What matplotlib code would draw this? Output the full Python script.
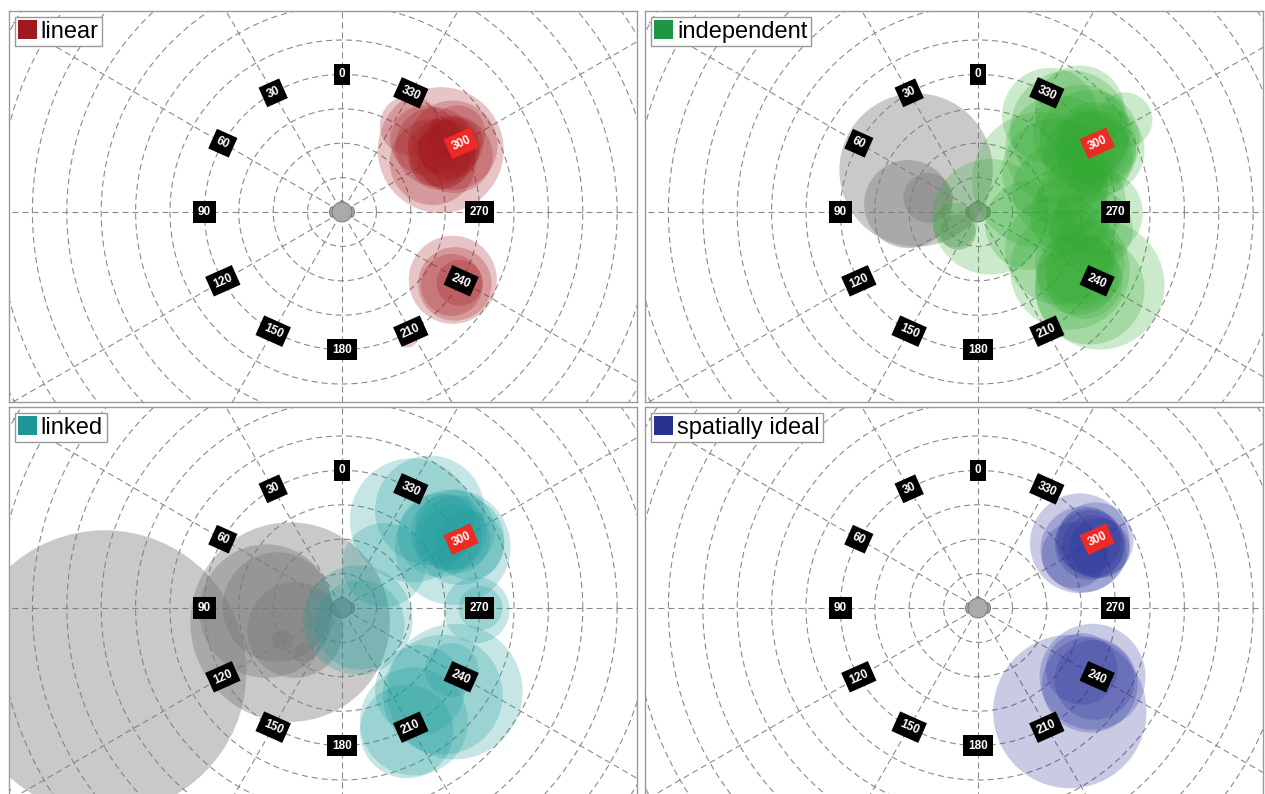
import numpy as np
import matplotlib
matplotlib.use("Agg")
import matplotlib.pyplot as plt
from matplotlib.patches import Circle, Ellipse, Polygon, Patch

plt.rcParams['font.family'] = ['Liberation Sans', 'DejaVu Sans']

# polar grid angles (deg, counter-clockwise from straight ahead)
angles = [0, 30, 60, 90, 120, 150, 180, 210, 240, 270, 300, 330]
target_angle = 300
label_radius = 4.0

panel_names = ["linear", "independent", "linked", "spatially ideal"]
panel_colors = ["#9e1a1e", "#1e9646", "#1e9696", "#28328c"]
fill_colors = ["#a3191e", "#32aa32", "#1c9c9c", "#28329a"]

# circles as (x, y, radius) in grid units
linear_x = [2.87, 1.97, 3.22, 2.64, 3.36, 3.13, 2.41, 2.84, 3.28,
            3.10, 2.90, 3.30, 2.70,
            3.22, 3.28, 3.19, 3.42, 1.91]
linear_y = [1.80, 2.52, 1.94, 1.45, 2.29, 1.80, 2.09, 1.51, 1.65,
            1.90, 1.70, 2.00, 1.90,
            -1.97, -2.09, -2.12, -2.06, -3.65]
linear_r = [1.83, 0.87, 1.30, 1.25, 0.81, 0.87, 1.01, 0.87, 1.10,
            0.90, 1.00, 0.80, 1.15,
            1.28, 1.07, 0.90, 0.67, 0.29]

indep_x = [0.35, 1.80, 1.51, -0.67,
           2.67, 3.25, 3.54, 2.38, 4.26, 2.96, 3.39, 2.09,
           3.40, 3.00, 3.60, 3.20, 2.20,
           3.54, 2.67, 3.00, 3.30, 2.40,
           3.54, 2.67, 3.25, 2.96, 2.38, 2.96, 2.90, 3.10]
indep_y = [-0.14, 0.93, -0.38, -0.38,
           2.38, 2.09, 1.80, 1.80, 2.67, 2.96, 1.94, 2.80,
           2.00, 2.30, 1.70, 1.60, 1.20,
           -0.03, -0.09, 0.30, -0.50, 0.60,
           -2.12, -1.68, -2.26, -1.54, -1.10, -1.68, -1.80, -2.00]
indep_r = [1.68, 1.97, 1.30, 0.64,
           1.74, 1.45, 1.30, 1.59, 0.81, 1.30, 1.01, 1.39,
           1.20, 1.40, 1.00, 1.30, 1.50,
           1.25, 1.16, 1.30, 1.20, 1.40,
           1.88, 1.74, 1.59, 1.30, 1.59, 1.01, 1.20, 1.10]
indep_gray_x = [-1.80, -2.03, -1.45, -0.58]
indep_gray_y = [1.22, 0.23, 0.41, -0.58]
indep_gray_r = [2.23, 1.28, 0.72, 0.52]

linked_x = [2.03, 3.22, 2.55, 3.42, 3.28, 3.71, 2.84, 1.22,
            3.30, 3.10,
            3.91, 4.03,
            0.46, 0.52,
            3.28, 2.93, 3.19, 2.09, 1.88, 2.26]
linked_y = [2.55, 1.77, 2.84, 1.97, 2.26, 1.83, 2.12, 1.25,
            2.00, 2.20,
            -0.06, 0.00,
            -0.35, -0.49,
            -2.43, -2.52, -1.80, -3.30, -3.59, -2.38]
linked_r = [1.80, 1.68, 1.59, 1.30, 1.16, 1.01, 1.22, 1.22,
            1.00, 1.10,
            0.96, 0.64,
            1.59, 1.30,
            1.97, 1.74, 0.78, 1.57, 1.36, 1.30]
linked_gray_x = [-6.90, -1.51, -2.20, -1.88, -1.36, -1.74, -1.10]
linked_gray_y = [-1.86, -0.41, -0.09, 0.03, -0.64, -0.93, -1.30]
linked_gray_r = [4.12, 2.90, 1.94, 1.59, 1.39, 0.29, 0.29]

ideal_x = [2.96, 3.07, 3.42, 3.25, 3.54, 2.81, 3.20, 3.35,
           2.67, 3.33, 3.01, 3.25, 3.39]
ideal_y = [1.88, 1.71, 1.97, 1.83, 1.74, 1.54, 1.95, 1.80,
           -3.01, -2.00, -1.77, -2.23, -2.09]
ideal_r = [1.45, 1.25, 1.10, 1.01, 0.87, 0.96, 0.95, 0.90,
           2.23, 1.54, 1.04, 1.39, 1.16]

panel_circles = [
    (linear_x, linear_y, linear_r, [], [], []),
    (indep_x, indep_y, indep_r, indep_gray_x, indep_gray_y, indep_gray_r),
    (linked_x, linked_y, linked_r, linked_gray_x, linked_gray_y, linked_gray_r),
    (ideal_x, ideal_y, ideal_r, [], [], []),
]

W, H = 1265, 794
unit = 34.4          # pixels per grid ring
ph = 391             # panel height in pixels
head_dx, head_dy = 333, 201
# left, top, width of each panel in pixels
panel_box = [(9, 11, 628), (645, 11, 618), (9, 407, 628), (645, 407, 618)]


def draw_grid(ax):
    dash = (0, (5.5, 3.5))
    th = np.linspace(0, 2 * np.pi, 400)
    for r in range(1, 14):
        ax.plot(r * np.cos(th), r * np.sin(th), color="#8a8a8a", lw=0.8,
                ls=dash, zorder=1)
    for a in angles:
        t = np.deg2rad(a)
        ax.plot([-0.4 * np.sin(t), -14 * np.sin(t)],
                [0.4 * np.cos(t), 14 * np.cos(t)],
                color="#8a8a8a", lw=0.8, ls=dash, zorder=1)


def draw_head(ax):
    for sx in (-1, 1):
        ax.add_patch(Ellipse((sx * 0.29, 0), 0.14, 0.3, fc="#a8a8a8",
                             ec="#6e6e6e", lw=0.6, zorder=1.5))
    ax.add_patch(Polygon([[-0.07, 0.27], [0.07, 0.27], [0, 0.36]],
                         closed=True, fc="#a8a8a8", ec="#6e6e6e", lw=0.6,
                         zorder=1.5))
    ax.add_patch(Circle((0, 0), 0.29, fc="#aaaaaa", ec="#6e6e6e", lw=0.6,
                        zorder=1.6))


def draw_labels(ax):
    for a in angles:
        t = np.deg2rad(a)
        x, y = -label_radius * np.sin(t), label_radius * np.cos(t)
        rot = a % 90
        if rot > 45:
            rot -= 90
        fc = "#ee2a24" if a == target_angle else "black"
        ax.text(x, y, str(a), color="white", fontsize=8.5, fontweight="bold",
                ha="center", va="center", rotation=rot * 0.8,
                rotation_mode="anchor", zorder=4,
                bbox=dict(boxstyle="square,pad=0.4", fc=fc, ec="none"))


fig = plt.figure(figsize=(W / 100, H / 100), dpi=100)

for i, name in enumerate(panel_names):
    x0, y0, pw = panel_box[i]
    ax = fig.add_axes([x0 / W, 1 - (y0 + ph) / H, pw / W, ph / H])
    ax.set_xlim(-head_dx / unit, (pw - head_dx) / unit)
    ax.set_ylim(-(ph - head_dy) / unit, head_dy / unit)
    ax.set_xticks([])
    ax.set_yticks([])
    for s in ax.spines.values():
        s.set_color("#9a9a9a")
        s.set_linewidth(1.0)

    draw_grid(ax)
    draw_head(ax)

    cx, cy, cr, gx, gy, gr = panel_circles[i]
    for x, y, r in zip(gx, gy, gr):
        ax.add_patch(Circle((x, y), r, fc="#7a7a7a", ec="none", alpha=0.4,
                            zorder=2))
    for x, y, r in zip(cx, cy, cr):
        ax.add_patch(Circle((x, y), r, fc=fill_colors[i], ec="none",
                            alpha=0.25, zorder=2.1))

    draw_labels(ax)

    leg = ax.legend(handles=[Patch(fc=panel_colors[i], ec="none")],
                    labels=[name], loc="upper left", fontsize=17,
                    handlelength=0.8, handleheight=0.8, handletextpad=0.15,
                    borderpad=0.15, borderaxespad=0.25, fancybox=False,
                    framealpha=1, edgecolor="#9a9a9a")
    leg.get_frame().set_linewidth(1.0)
    leg.set_zorder(5)

fig.savefig("out.png", dpi=100)
